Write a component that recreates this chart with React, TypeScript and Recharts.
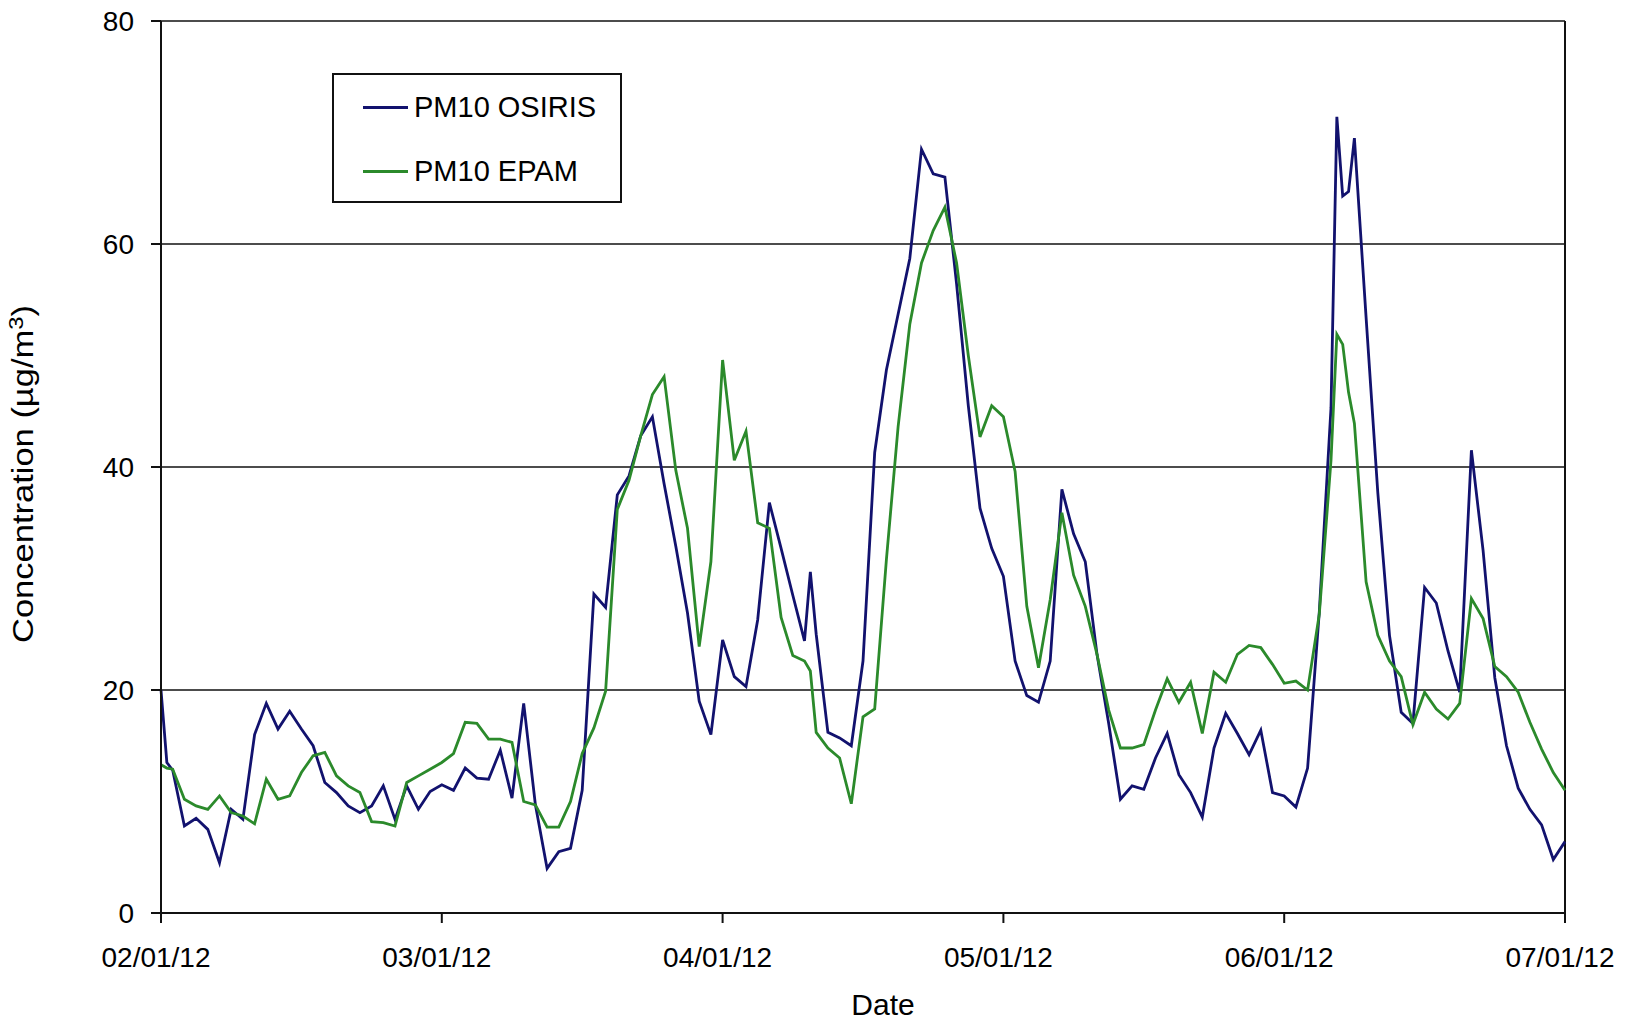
import React from "react"
import {
  LineChart,
  Line,
  XAxis,
  YAxis,
  CartesianGrid,
  Legend,
  ReferenceLine,
} from "recharts"

// time in hours since 02/01/12 00:00
const hours = [
  0, 0.5, 1, 2, 3, 4, 5, 6, 7, 8, 9, 10, 11, 12, 13, 14, 15, 16, 17, 18, 19, 20, 21, 22, 23,
  24, 25, 26, 27, 28, 29, 30, 31, 32, 33, 34, 35, 36, 37, 38, 39, 40, 41, 42, 43, 44, 45, 46, 47,
  48, 49, 50, 51, 52, 53, 54, 55, 55.5, 56, 57, 58, 59, 60, 61, 62, 63, 64, 65, 66, 67, 68, 69, 70, 71,
  72, 73, 74, 75, 76, 77, 78, 79, 80, 81, 82, 83, 84, 85, 86, 87, 88, 89, 90, 91, 92, 93, 94, 95,
  96, 97, 98, 99, 100, 100.5, 101, 101.5, 102, 103, 104, 105, 106, 107, 108, 109, 110, 111, 112,
  113, 114, 115, 116, 117, 118, 119, 120,
]

const osiris = [
  20, 13.5, 12.8, 7.8, 8.5, 7.5, 4.5, 9.3, 8.4, 16, 18.8, 16.5, 18.1, 16.5, 15.0, 11.7, 10.8, 9.6, 9.0, 9.6, 11.4, 8.4, 11.4, 9.3, 10.9,
  11.5, 11.0, 13.0, 12.1, 12.0, 14.6, 10.3, 18.8, 9.7, 4.0, 5.5, 5.8, 11, 28.6, 27.4, 37.5, 39.2, 42.8, 44.5, 38.5, 32.9, 26.9, 19, 16,
  24.5, 21.2, 20.3, 26.3, 36.8, 32.7, 28.5, 24.4, 30.6, 25, 16.2, 15.7, 15.0, 22.6, 41.3, 48.7, 53.7, 58.7, 68.5, 66.3, 66.0, 56.4, 45.5, 36.3, 32.7,
  30.2, 22.6, 19.5, 18.9, 22.6, 38.0, 34.0, 31.5, 23.2, 17.0, 10.2, 11.4, 11.1, 13.9, 16.1, 12.4, 10.8, 8.6, 14.8, 17.9, 16.1, 14.2, 16.4, 10.8,
  10.5, 9.5, 13, 27, 45.3, 71.4, 64.3, 64.7, 69.5, 53.4, 37.7, 24.9, 18, 17, 29.2, 27.8, 23.5, 19.8, 41.5,
  32.5, 21.1, 15.0, 11.2, 9.3, 7.9, 4.8, 6.4,
]

const epam = [
  13.3, 13.0, 12.9, 10.2, 9.6, 9.3, 10.5, 9.0, 8.7, 8.0, 12.0, 10.2, 10.5, 12.6, 14.1, 14.4, 12.3, 11.4, 10.8, 8.2, 8.1, 7.8, 11.7, 12.3, 12.9,
  13.5, 14.3, 17.1, 17.0, 15.6, 15.6, 15.3, 10.0, 9.7, 7.7, 7.7, 10.0, 14.3, 16.6, 19.9, 36.2, 38.8, 42.8, 46.5, 48.1, 39.7, 34.5, 23.9, 31.5,
  49.6, 40.6, 43.2, 35.0, 34.5, 26.5, 23.1, 22.6, 21.7, 16.2, 14.8, 13.9, 9.8, 17.6, 18.3, 31.7, 43.6, 52.8, 58.3, 61.2, 63.3, 58.3, 50.0, 42.7, 45.5,
  44.5, 39.6, 27.5, 22.0, 28.1, 35.9, 30.3, 27.5, 23.2, 18.2, 14.8, 14.8, 15.1, 18.2, 21.0, 18.9, 20.7, 16.1, 21.6, 20.7, 23.2, 24.0, 23.8, 22.3,
  20.6, 20.8, 20.0, 26.8, 40.6, 51.9, 51.0, 46.7, 43.9, 29.7, 24.9, 22.6, 21.2, 16.9, 19.8, 18.3, 17.4, 18.8, 28.2,
  26.4, 22.1, 21.2, 19.8, 17.1, 14.7, 12.6, 11.0,
]

const seriesNames = ["PM10 OSIRIS", "PM10 EPAM"]
const tickHours = [0, 24, 48, 72, 96, 120]
const dateLabels = ["02/01/12", "03/01/12", "04/01/12", "05/01/12", "06/01/12", "07/01/12"]
const yTicks = [0, 20, 40, 60, 80]

const FONT = "'Liberation Sans', Arial, sans-serif"
const OSIRIS_COLOR = "#12126e"
const EPAM_COLOR = "#2b8a2b"

const data = hours.map((h, i) => ({ h, osiris: osiris[i], epam: epam[i] }))

const YTitle = (props: any) => {
  const vb = props.viewBox || { x: 61, y: 21, width: 100, height: 892 }
  const x = vb.x - 28
  const cy = vb.y + vb.height / 2 + 7
  return (
    <text
      x={x}
      y={cy}
      transform={`rotate(-90, ${x}, ${cy})`}
      textAnchor="middle"
      fontSize={29}
      fontFamily={FONT}
      fill="#000"
      textLength={338}
      lengthAdjust="spacingAndGlyphs"
    >
      Concentration (µg/m<tspan dy={-10} fontSize={20}>3</tspan>
      <tspan dy={10}>)</tspan>
    </text>
  )
}

const LegendBox = ({ payload }: { payload?: Array<{ value: string; color: string }> }) => {
  const items = [...(payload || [])].sort(
    (a, b) => seriesNames.indexOf(a.value) - seriesNames.indexOf(b.value)
  )
  return (
    <div
      style={{
        width: 290,
        height: 130,
        boxSizing: "border-box",
        border: "2px solid #111",
        background: "#fff",
        fontFamily: FONT,
        fontSize: 29,
        color: "#000",
      }}
    >
      {items.map((p) => (
        <div key={p.value} style={{ height: 64, display: "flex", alignItems: "center" }}>
          <span style={{ marginLeft: 29, width: 45, height: 3, background: p.color, display: "inline-block" }} />
          <span style={{ marginLeft: 6, lineHeight: "normal" }}>{p.value}</span>
        </div>
      ))}
    </div>
  )
}

export default function App() {
  return (
    <div style={{ position: "absolute", left: 0, top: 0, width: 1633, height: 1023, background: "#fff" }}>
      <LineChart
        width={1633}
        height={1023}
        data={data}
        margin={{ top: 21, right: 68, left: 61, bottom: 0 }}
      >
        <CartesianGrid vertical={false} stroke="#111" strokeWidth={1.6} />
        <XAxis
          dataKey="h"
          type="number"
          domain={[0, 120]}
          ticks={tickHours}
          tickFormatter={(v: number) => dateLabels[tickHours.indexOf(v)] ?? ""}
          height={110}
          tickSize={10}
          tickMargin={24}
          stroke="#111"
          strokeWidth={2}
          tick={{ fontSize: 28, fill: "#000", fontFamily: FONT, dx: -5 }}
          label={{ value: "Date", position: "insideBottom", offset: 8, dx: 20, fontSize: 30, fill: "#000", fontFamily: FONT }}
        />
        <YAxis
          domain={[0, 80]}
          ticks={yTicks}
          width={100}
          tickSize={10}
          tickMargin={17}
          stroke="#111"
          strokeWidth={2}
          tick={{ fontSize: 28, fill: "#000", fontFamily: FONT }}
          label={{ content: <YTitle /> }}
        />
        <ReferenceLine x={120} stroke="#111" strokeWidth={2} />
        <Legend
          layout="horizontal"
          verticalAlign="middle"
          align="center"
          wrapperStyle={{ left: 332, top: 73, width: 290, height: 130 }}
          content={<LegendBox />}
        />
        <Line
          type="linear"
          dataKey="osiris"
          name={seriesNames[0]}
          stroke={OSIRIS_COLOR}
          strokeWidth={2.8}
          dot={false}
          isAnimationActive={false}
        />
        <Line
          type="linear"
          dataKey="epam"
          name={seriesNames[1]}
          stroke={EPAM_COLOR}
          strokeWidth={2.8}
          dot={false}
          isAnimationActive={false}
        />
      </LineChart>
    </div>
  )
}
